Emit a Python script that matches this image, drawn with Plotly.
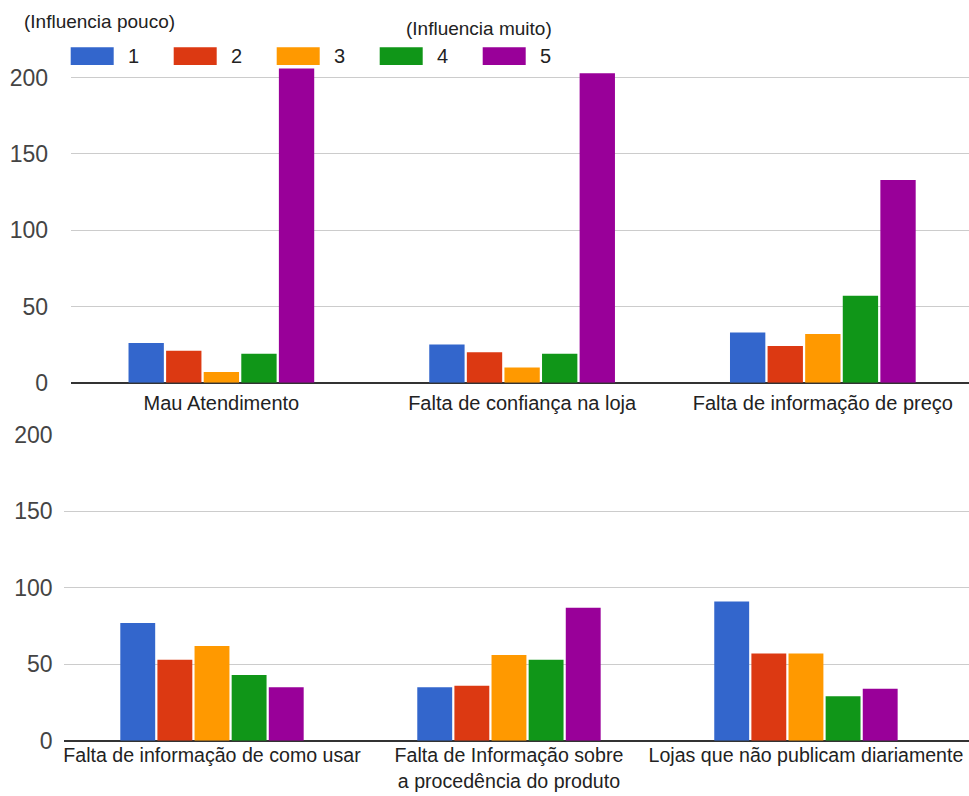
import plotly.graph_objects as go

# Categories for each panel
cats_top = ["Mau Atendimento", "Falta de confiança na loja", "Falta de informação de preço"]
cats_bottom = [
    "Falta de informação de como usar",
    "Falta de Informação sobre<br>a procedência do produto",
    "Lojas que não publicam diariamente",
]

# Influence levels (1 = little influence, 5 = a lot)
levels = ["1", "2", "3", "4", "5"]
colors = ["#3366cc", "#dc3912", "#ff9900", "#109618", "#990099"]

# Responses per level, top panel
top_1 = [26, 25, 33]
top_2 = [21, 20, 24]
top_3 = [7, 10, 32]
top_4 = [19, 19, 57]
top_5 = [206, 203, 133]

# Responses per level, bottom panel
bot_1 = [77, 35, 91]
bot_2 = [53, 36, 57]
bot_3 = [62, 56, 57]
bot_4 = [43, 53, 29]
bot_5 = [35, 87, 34]

y_ticks = [0, 50, 100, 150, 200]

top_series = [top_1, top_2, top_3, top_4, top_5]
bottom_series = [bot_1, bot_2, bot_3, bot_4, bot_5]

W, H = 969, 796
FONT = "Liberation Sans, Arial, sans-serif"

fig = go.Figure()
for name, color, vals in zip(levels, colors, top_series):
    fig.add_trace(go.Bar(x=cats_top, y=vals, name=name, marker_color=color,
                         marker_line_width=0, xaxis="x", yaxis="y", showlegend=False))
for name, color, vals in zip(levels, colors, bottom_series):
    fig.add_trace(go.Bar(x=cats_bottom, y=vals, name=name, marker_color=color,
                         marker_line_width=0, xaxis="x2", yaxis="y2", showlegend=False))


def py(px):
    return 1 - px / H


def px_(px):
    return px / W


xcommon = dict(type="category", showgrid=False, showline=False, zeroline=False,
               ticks="", tickfont=dict(family=FONT, size=20, color="#222222"),
               ticklabelstandoff=6, automargin=False, fixedrange=True)
ycommon = dict(tickvals=y_ticks, showgrid=True, gridcolor="#cccccc", gridwidth=1,
               zeroline=True, zerolinecolor="#333333", zerolinewidth=2,
               showline=False, ticks="", automargin=False,
               tickfont=dict(family=FONT, size=23, color="#444444"), fixedrange=True)

fig.update_layout(
    width=W, height=H,
    margin=dict(l=0, r=0, t=0, b=0),
    paper_bgcolor="white", plot_bgcolor="white",
    barmode="group", bargap=0.375, bargroupgap=0.06,
    font=dict(family=FONT, color="#222222"),
    xaxis=dict(xcommon, domain=[px_(71), 1], range=[-0.5, 2.486], anchor="y"),
    yaxis=dict(ycommon, domain=[py(382.7), py(62.5)], range=[0, 210], anchor="x",
               ticklabelstandoff=22),
    xaxis2=dict(xcommon, domain=[px_(63.5), 1], range=[-0.5, 2.549], anchor="y2",
                ticklabelstandoff=1, tickfont=dict(family=FONT, size=19.6, color="#222222")),
    yaxis2=dict(ycommon, domain=[py(740.7), py(435)], range=[0, 200], anchor="x2",
                ticklabelstandoff=10),
)

# Custom legend with wide colour swatches
shapes = []
annotations = []
sw_left, sw_w, sw_step = 70.7, 43, 103
for i, (name, color) in enumerate(zip(levels, colors)):
    x0 = sw_left + i * sw_step
    shapes.append(dict(type="rect", xref="paper", yref="paper",
                       x0=px_(x0), x1=px_(x0 + sw_w), y0=py(65), y1=py(47.3),
                       fillcolor=color, line=dict(width=0)))
    annotations.append(dict(text=name, xref="paper", yref="paper",
                            x=px_(x0 + sw_w + 12), y=py(56), xanchor="left", yanchor="middle",
                            showarrow=False, font=dict(family=FONT, size=20, color="#222222")))

annotations.append(dict(text="(Influencia pouco)", xref="paper", yref="paper",
                        x=px_(22), y=py(22), xanchor="left", yanchor="middle",
                        showarrow=False, font=dict(family=FONT, size=19, color="#222222")))
annotations.append(dict(text="(Influencia muito)", xref="paper", yref="paper",
                        x=px_(404), y=py(28), xanchor="left", yanchor="middle",
                        showarrow=False, font=dict(family=FONT, size=19, color="#222222")))

fig.update_layout(shapes=shapes, annotations=annotations)

fig.write_html("out.html", config={"displayModeBar": False})
